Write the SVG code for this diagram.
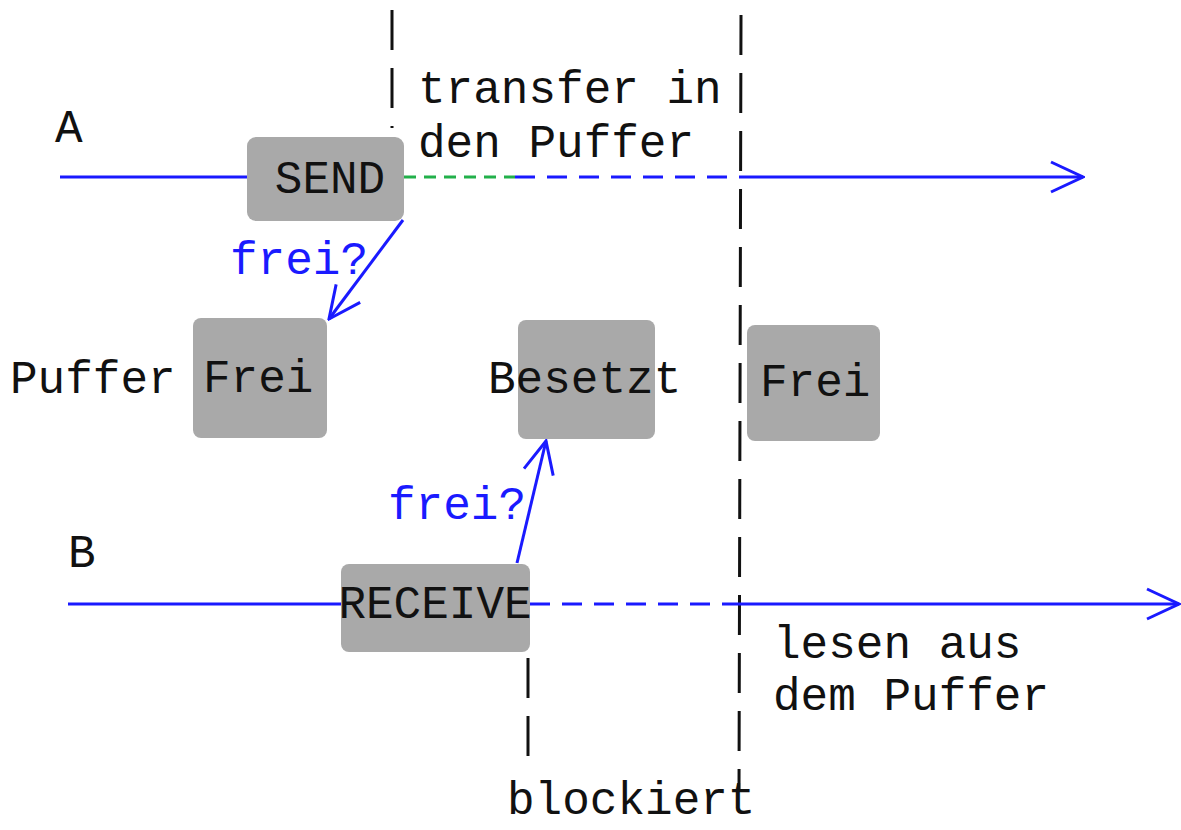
<svg xmlns="http://www.w3.org/2000/svg" width="1181" height="830" viewBox="0 0 1181 830">
<style>
.box{fill:#a9a9a9;}
.t{font-family:"Liberation Mono","Courier New",monospace;font-size:46px;fill:#111;}
.b{fill:#1a1aff;}
.ln{stroke:#1a1aff;stroke-width:3;fill:none;}
.dash{stroke:#1a1aff;stroke-width:3;fill:none;stroke-dasharray:20 12;}
.gdash{stroke:#22b04a;stroke-width:3;fill:none;stroke-dasharray:12 8;}
.sep{stroke:#111;stroke-width:3;fill:none;stroke-dasharray:40 18;}
</style>
<defs>
<marker id="ah" markerUnits="userSpaceOnUse" markerWidth="36" markerHeight="34" viewBox="0 0 36 34" refX="34" refY="17" orient="auto">
<path d="M2,2 L34,17 L2,32" fill="none" stroke="#1a1aff" stroke-width="3"/>
</marker>
</defs>
<rect width="1181" height="830" fill="#fff"/>
<g id="separators">
<line class="sep" x1="392" y1="10" x2="392" y2="128"/>
<line class="sep" x1="741" y1="15" x2="739" y2="792"/>
<line class="sep" x1="528" y1="658" x2="528" y2="768"/>
</g>
<g id="connectors">
<line class="ln" x1="60" y1="177" x2="247" y2="177"/>
<line class="gdash" x1="404" y1="177" x2="515" y2="177"/>
<line class="dash" x1="515" y1="177" x2="740" y2="177"/>
<line class="ln" x1="740" y1="177" x2="1083" y2="177" marker-end="url(#ah)"/>
<line class="ln" x1="68" y1="604" x2="341" y2="604"/>
<line class="dash" x1="530" y1="604" x2="740" y2="604"/>
<line class="ln" x1="740" y1="604" x2="1179" y2="604" marker-end="url(#ah)"/>
<line class="ln" x1="403" y1="220" x2="329" y2="319" marker-end="url(#ah)"/>
<line class="ln" x1="517" y1="563" x2="546" y2="441" marker-end="url(#ah)"/>
</g>
<g id="send">
<rect class="box" x="247" y="137" width="157" height="84" rx="9"/>
<text class="t" x="330" y="193" text-anchor="middle">SEND</text>
</g>
<g id="frei1">
<rect class="box" x="193" y="318" width="134" height="120" rx="8"/>
<text class="t" x="203" y="392">Frei</text>
</g>
<g id="besetzt">
<rect class="box" x="518" y="320" width="137" height="119" rx="8"/>
<text class="t" x="488" y="393">Besetzt</text>
</g>
<g id="frei2">
<rect class="box" x="747" y="325" width="133" height="116" rx="8"/>
<text class="t" x="760" y="396">Frei</text>
</g>
<g id="receive">
<rect class="box" x="341" y="564" width="189" height="88" rx="8"/>
<text class="t" x="435" y="618" text-anchor="middle">RECEIVE</text>
</g>
<g id="labels">
<text class="t" x="55" y="142">A</text>
<text class="t" x="68" y="567">B</text>
<text class="t" x="418" y="103">transfer in</text>
<text class="t" x="418" y="157">den Puffer</text>
<text class="t b" x="230" y="274">frei?</text>
<text class="t" x="10" y="393">Puffer</text>
<text class="t b" x="388" y="519">frei?</text>
<text class="t" x="773" y="658">lesen aus</text>
<text class="t" x="773" y="710">dem Puffer</text>
<text class="t" x="507" y="814">blockiert</text>
</g>
</svg>
